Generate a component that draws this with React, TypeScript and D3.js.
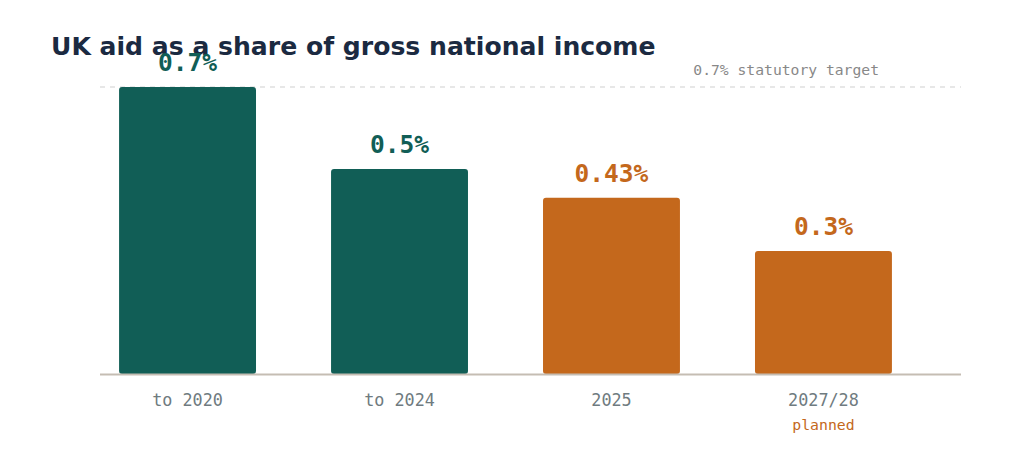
import React, { useEffect, useRef } from 'react';
import * as d3 from 'd3';

const periods = ['to 2020', 'to 2024', '2025', '2027/28'];
const shares = [0.7, 0.5, 0.43, 0.3];
const shareLabels = ['0.7%', '0.5%', '0.43%', '0.3%'];
const isProjected = [false, false, true, true];
const notes = ['', '', '', 'planned'];
const target = 0.7;
const targetLabel = '0.7% statutory target';

const width = 1008;
const height = 458;
const teal = '#115e56';
const orange = '#c4681c';

const App: React.FC = () => {
    const ref = useRef<HTMLDivElement>(null);

    useEffect(() => {
        if (!ref.current) return;

        const svg = d3.select(ref.current)
            .append('svg')
            .attr('width', width)
            .attr('height', height)
            .style('display', 'block');

        const mono = "'DejaVu Sans Mono', monospace";

        svg.append('text')
            .attr('x', 43)
            .attr('y', 47)
            .attr('font-family', "'DejaVu Sans', sans-serif")
            .attr('font-weight', 'bold')
            .attr('font-size', 25.1)
            .attr('fill', '#1b2a41')
            .text('UK aid as a share of gross national income');

        const x = d3.scaleBand<string>()
            .domain(periods)
            .range([92, 903])
            .paddingInner(0.354)
            .paddingOuter(0.09);

        const y = d3.scaleLinear()
            .domain([0, 0.7])
            .range([366, 79]);

        // target line
        svg.append('line')
            .attr('x1', 92)
            .attr('x2', 953)
            .attr('y1', y(target))
            .attr('y2', y(target))
            .attr('stroke', '#cfcfcf')
            .attr('stroke-width', 1)
            .attr('stroke-dasharray', '5,5');

        svg.append('text')
            .attr('x', 871)
            .attr('y', y(target) - 12)
            .attr('text-anchor', 'end')
            .attr('font-family', mono)
            .attr('font-size', 14.7)
            .attr('fill', '#888888')
            .text(targetLabel);

        const data = periods.map((p, i) => ({
            period: p,
            value: shares[i],
            label: shareLabels[i],
            projected: isProjected[i],
            note: notes[i],
        }));

        svg.append('g')
            .selectAll('rect')
            .data(data)
            .enter()
            .append('rect')
                .attr('x', (d) => x(d.period)!)
                .attr('y', (d) => y(d.value))
                .attr('width', x.bandwidth())
                .attr('height', (d) => y(0) - y(d.value))
                .attr('rx', 3)
                .attr('fill', (d) => d.projected ? orange : teal);

        svg.append('line')
            .attr('x1', 92)
            .attr('x2', 953)
            .attr('y1', y(0) + 0.5)
            .attr('y2', y(0) + 0.5)
            .attr('stroke', '#c5bdb3')
            .attr('stroke-width', 2);

        svg.append('g')
            .selectAll('text')
            .data(data)
            .enter()
            .append('text')
                .attr('x', (d) => x(d.period)! + x.bandwidth() / 2)
                .attr('y', (d) => y(d.value) - 16)
                .attr('text-anchor', 'middle')
                .attr('font-family', mono)
                .attr('font-weight', 'bold')
                .attr('font-size', 24.5)
                .attr('fill', (d) => d.projected ? orange : teal)
                .text((d) => d.label);

        const axis = svg.append('g')
            .attr('transform', `translate(0, ${y(0)})`)
            .call(d3.axisBottom(x).tickSize(0).tickPadding(0));
        axis.select('.domain').remove();
        axis.selectAll('.tick text')
            .attr('y', 32)
            .attr('dy', 0)
            .attr('font-family', mono)
            .attr('font-size', 16.8)
            .attr('fill', '#6f7b80');

        svg.append('g')
            .selectAll('text')
            .data(data.filter((d) => d.note))
            .enter()
            .append('text')
                .attr('x', (d) => x(d.period)! + x.bandwidth() / 2)
                .attr('y', y(0) + 56)
                .attr('text-anchor', 'middle')
                .attr('font-family', mono)
                .attr('font-size', 14.8)
                .attr('fill', orange)
                .text((d) => d.note);

        return () => {
            svg.remove();
        };
    }, []);

    return <div ref={ref}></div>;
};

export default App;
